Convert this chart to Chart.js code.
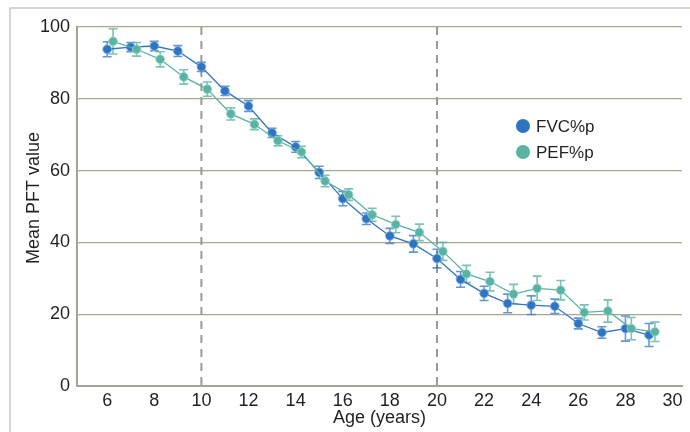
<!DOCTYPE html>
<html>
<head>
<meta charset="utf-8">
<script src="https://cdn.jsdelivr.net/npm/chart.js@4/dist/chart.umd.min.js"></script>
<style>
  html, body { margin: 0; padding: 0; background: #fff; }
  #wrap { width: 690px; height: 432px; position: relative; }
</style>
</head>
<body>
<div id="wrap"><canvas id="pftChart" width="690" height="432"></canvas></div>
<script>
// ages (years)
const ages = [6, 7, 8, 9, 10, 11, 12, 13, 14, 15, 16, 17, 18, 19, 20, 21, 22, 23, 24, 25, 26, 27, 28, 29];
// FVC%p mean and error
const fvc = [93.8, 94.4, 94.7, 93.3, 88.9, 82.2, 78.0, 70.5, 66.6, 59.5, 52.2, 46.6, 41.8, 39.6, 35.5, 29.7, 25.8, 23.0, 22.5, 22.2, 17.4, 14.9, 16.0, 14.2];
const fvcErr = [2.1, 1.3, 1.3, 1.5, 1.3, 1.3, 1.5, 1.3, 1.5, 1.7, 2.0, 1.6, 2.1, 2.3, 2.6, 2.2, 2.0, 2.6, 2.6, 2.0, 1.5, 1.6, 3.5, 3.2];
// PEF%p mean and error
const pef = [96.0, 93.8, 91.0, 86.1, 82.7, 75.8, 72.9, 68.3, 65.2, 57.1, 53.3, 47.7, 45.0, 42.8, 37.5, 31.2, 29.1, 25.6, 27.2, 26.7, 20.5, 20.9, 16.0, 15.1];
const pefErr = [3.5, 1.9, 2.1, 2.0, 2.0, 1.7, 1.5, 1.4, 1.6, 1.6, 1.6, 1.8, 2.3, 2.3, 2.5, 2.4, 2.6, 2.7, 3.4, 2.7, 2.1, 3.1, 3.1, 2.7];
// tick labels
const xTicks = [6, 8, 10, 12, 14, 16, 18, 20, 22, 24, 26, 28, 30];
const yTicks = [0, 20, 40, 60, 80, 100];
// dashed reference ages
const refAges = [10, 20];
const seriesNames = ["FVC%p", "PEF%p"];
const yTitle = "Mean PFT value";

const PEF_SHIFT = 0.25; // small horizontal dodge for PEF markers
const BLUE = "#2f74c1";
const TEAL = "#58b3a3";
const FONT = "'Liberation Sans', Arial, sans-serif";
const TEXT = "#231f20";

const fvcPts = ages.map((a, i) => ({ x: a, y: fvc[i], err: fvcErr[i] }));
const pefPts = ages.map((a, i) => ({ x: a + PEF_SHIFT, y: pef[i], err: pefErr[i] }));

// frame lines (top + left) and y title
const framePlugin = {
  id: "frame",
  beforeDraw(chart) {
    const c = chart.ctx;
    c.save();
    c.strokeStyle = "#c9c9bd";
    c.lineWidth = 1.5;
    c.beginPath();
    c.moveTo(10, 432);
    c.lineTo(10, 8);
    c.lineTo(690, 8);
    c.stroke();
    // y axis title, sits a little above plot middle in the original
    c.translate(34, 198);
    c.rotate(-Math.PI / 2);
    c.fillStyle = TEXT;
    c.font = "18px " + FONT;
    c.textAlign = "center";
    c.textBaseline = "middle";
    c.fillText(yTitle, 0, 0);
    c.restore();
  },
};

// dashed vertical lines
const refLines = {
  id: "refLines",
  beforeDatasetsDraw(chart) {
    const { ctx, chartArea, scales } = chart;
    ctx.save();
    ctx.strokeStyle = "#9a9a94";
    ctx.lineWidth = 2;
    ctx.setLineDash([8, 6]);
    refAges.forEach((a) => {
      const px = scales.x.getPixelForValue(a);
      ctx.beginPath();
      ctx.moveTo(px, chartArea.top);
      ctx.lineTo(px, chartArea.bottom);
      ctx.stroke();
    });
    ctx.restore();
  },
};

// error bars
const errorBars = {
  id: "errorBars",
  beforeDatasetsDraw(chart) {
    const { ctx, scales } = chart;
    ctx.save();
    chart.data.datasets.forEach((ds) => {
      ctx.strokeStyle = ds.errColor;
      ctx.lineWidth = 1.6;
      ds.data.forEach((p) => {
        const px = scales.x.getPixelForValue(p.x);
        const top = scales.y.getPixelForValue(p.y + p.err);
        const bot = scales.y.getPixelForValue(p.y - p.err);
        ctx.beginPath();
        ctx.moveTo(px, top);
        ctx.lineTo(px, bot);
        ctx.moveTo(px - 4.5, top);
        ctx.lineTo(px + 4.5, top);
        ctx.moveTo(px - 4.5, bot);
        ctx.lineTo(px + 4.5, bot);
        ctx.stroke();
      });
    });
    ctx.restore();
  },
};

// legend inside plot
const innerLegend = {
  id: "innerLegend",
  afterDraw(chart) {
    const ctx = chart.ctx;
    const cols = [BLUE, TEAL];
    ctx.save();
    ctx.font = "17px " + FONT;
    ctx.textBaseline = "middle";
    seriesNames.forEach((name, i) => {
      const y = 126 + i * 26;
      ctx.fillStyle = cols[i];
      ctx.beginPath();
      ctx.arc(523, y, 7, 0, Math.PI * 2);
      ctx.fill();
      ctx.fillStyle = TEXT;
      ctx.fillText(name, 536, y + 1);
    });
    ctx.restore();
  },
};

new Chart(document.getElementById("pftChart").getContext("2d"), {
  type: "line",
  data: {
    datasets: [
      {
        label: seriesNames[0],
        data: fvcPts,
        borderColor: BLUE,
        backgroundColor: BLUE,
        pointBorderColor: "rgba(120,165,220,0.9)",
        errColor: "rgba(47,116,193,0.75)",
        borderWidth: 1.3,
        pointRadius: 4.3,
        pointBorderWidth: 1,
        order: 1,
      },
      {
        label: seriesNames[1],
        data: pefPts,
        borderColor: TEAL,
        backgroundColor: TEAL,
        pointBorderColor: "rgba(150,210,200,0.9)",
        errColor: "rgba(88,179,163,0.8)",
        borderWidth: 1.3,
        pointRadius: 4.3,
        pointBorderWidth: 1,
        order: 0,
      },
    ],
  },
  options: {
    responsive: false,
    animation: false,
    layout: { padding: { top: 27, right: 8, left: 0, bottom: 0 } },
    plugins: {
      legend: { display: false },
      tooltip: { enabled: false },
    },
    scales: {
      x: {
        type: "linear",
        min: 4.72,
        max: 30.4,
        afterBuildTicks: (s) => { s.ticks = xTicks.map((v) => ({ value: v })); },
        afterFit: (s) => { s.height = 46; },
        grid: { display: false, drawTicks: false },
        border: { color: "#a3a397", width: 2 },
        ticks: { color: TEXT, font: { family: FONT, size: 18 }, padding: 4, maxRotation: 0 },
        title: {
          display: true,
          text: "Age (years)",
          color: TEXT,
          font: { family: FONT, size: 18 },
          padding: { top: 0, bottom: 3 },
        },
      },
      y: {
        min: 0,
        max: 100,
        afterBuildTicks: (s) => { s.ticks = yTicks.map((v) => ({ value: v })); },
        afterFit: (s) => { s.width = 77; },
        grid: { color: "#a9a78f", lineWidth: 1.2, drawTicks: false },
        border: { color: "#a3a397", width: 2 },
        ticks: { color: TEXT, font: { family: FONT, size: 18 }, padding: 7 },
      },
    },
  },
  plugins: [framePlugin, refLines, errorBars, innerLegend],
});
</script>
</body>
</html>
